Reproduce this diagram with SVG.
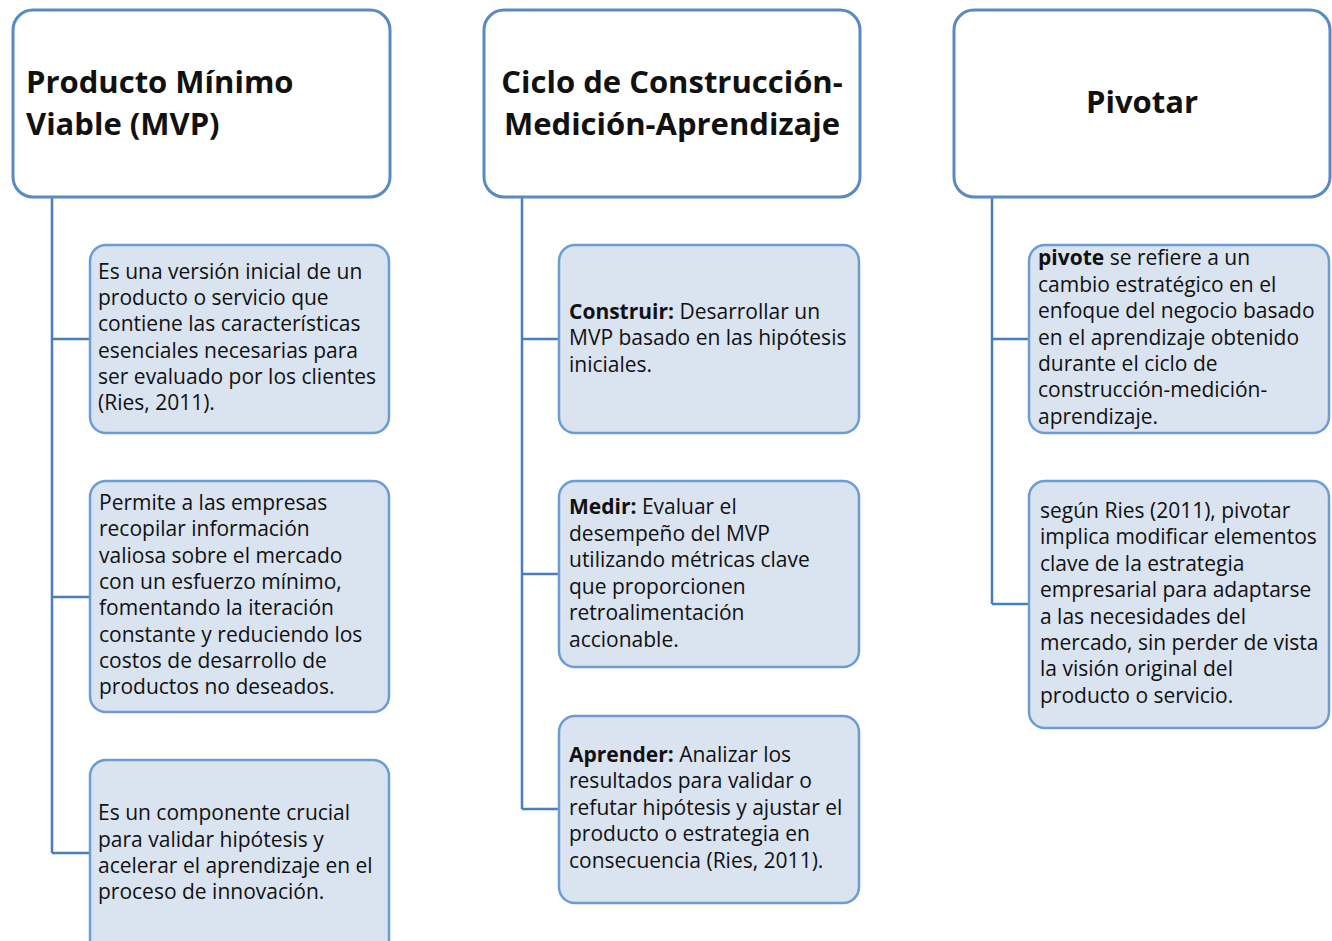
<svg xmlns="http://www.w3.org/2000/svg" width="1332" height="941" viewBox="0 0 1332 941">
<style>
.hdr{fill:#ffffff;stroke:#5A8AC2;stroke-width:3}
.box{fill:#DAE3F0;stroke:#6C9CD4;stroke-width:2.5}
.con{fill:none;stroke:#4A7EBA;stroke-width:2.5}
.t{font-family:"Open Sans","Liberation Sans",Arial,sans-serif;font-size:21px;fill:#111}
.h{font-family:"Open Sans","Liberation Sans",Arial,sans-serif;font-size:31px;font-weight:bold;fill:#111}
.b{font-weight:bold}
</style>
<rect width="1332" height="941" fill="#ffffff"/>
<g id="connectors">
<path class="con" d="M52,197 V853 M52,339 H90 M52,597 H90 M52,853 H90"/>
<path class="con" d="M522,197 V809 M522,339 H559 M522,574 H559 M522,809 H559"/>
<path class="con" d="M992,197 V604 M992,339 H1029 M992,604 H1029"/>
</g>
<g id="h1">
<rect class="hdr" x="13" y="10" width="377" height="187" rx="20"/>
<text class="h" x="26" y="93">Producto Mínimo</text>
<text class="h" x="26" y="135">Viable (MVP)</text>
</g>
<g id="h2">
<rect class="hdr" x="484" y="10" width="376" height="187" rx="20"/>
<text class="h" x="672" y="93" text-anchor="middle">Ciclo de Construcción-</text>
<text class="h" x="672" y="135" text-anchor="middle">Medición-Aprendizaje</text>
</g>
<g id="h3">
<rect class="hdr" x="954" y="10" width="376" height="187" rx="20"/>
<text class="h" x="1142" y="113" text-anchor="middle">Pivotar</text>
</g>
<g id="c1a">
<rect class="box" x="90" y="245" width="299" height="188" rx="16"/>
<text class="t" x="98" y="279">Es una versión inicial de un</text>
<text class="t" x="98" y="305">producto o servicio que</text>
<text class="t" x="98" y="331">contiene las características</text>
<text class="t" x="98" y="358">esenciales necesarias para</text>
<text class="t" x="98" y="384">ser evaluado por los clientes</text>
<text class="t" x="98" y="410">(Ries, 2011).</text>
</g>
<g id="c1b">
<rect class="box" x="90" y="481" width="299" height="231" rx="16"/>
<text class="t" x="99" y="510">Permite a las empresas</text>
<text class="t" x="99" y="536">recopilar información</text>
<text class="t" x="99" y="563">valiosa sobre el mercado</text>
<text class="t" x="99" y="589">con un esfuerzo mínimo,</text>
<text class="t" x="99" y="615">fomentando la iteración</text>
<text class="t" x="99" y="642">constante y reduciendo los</text>
<text class="t" x="99" y="668">costos de desarrollo de</text>
<text class="t" x="99" y="694">productos no deseados.</text>
</g>
<g id="c1c">
<rect class="box" x="90" y="760" width="299" height="200" rx="16"/>
<text class="t" x="98" y="820">Es un componente crucial</text>
<text class="t" x="98" y="847">para validar hipótesis y</text>
<text class="t" x="98" y="873">acelerar el aprendizaje en el</text>
<text class="t" x="98" y="899">proceso de innovación.</text>
</g>
<g id="c2a">
<rect class="box" x="559" y="245" width="300" height="188" rx="16"/>
<text class="t" x="569" y="319"><tspan class="b">Construir:</tspan> Desarrollar un</text>
<text class="t" x="569" y="345">MVP basado en las hipótesis</text>
<text class="t" x="569" y="372">iniciales.</text>
</g>
<g id="c2b">
<rect class="box" x="559" y="481" width="300" height="186" rx="16"/>
<text class="t" x="569" y="514"><tspan class="b">Medir:</tspan> Evaluar el</text>
<text class="t" x="569" y="541">desempeño del MVP</text>
<text class="t" x="569" y="567">utilizando métricas clave</text>
<text class="t" x="569" y="594">que proporcionen</text>
<text class="t" x="569" y="620">retroalimentación</text>
<text class="t" x="569" y="647">accionable.</text>
</g>
<g id="c2c">
<rect class="box" x="559" y="716" width="300" height="187" rx="16"/>
<text class="t" x="569" y="762"><tspan class="b">Aprender:</tspan> Analizar los</text>
<text class="t" x="569" y="788">resultados para validar o</text>
<text class="t" x="569" y="815">refutar hipótesis y ajustar el</text>
<text class="t" x="569" y="841">producto o estrategia en</text>
<text class="t" x="569" y="868">consecuencia (Ries, 2011).</text>
</g>
<g id="c3a">
<rect class="box" x="1029" y="245" width="300" height="188" rx="16"/>
<text class="t" x="1038" y="265"><tspan class="b">pivote</tspan> se refiere a un</text>
<text class="t" x="1038" y="292">cambio estratégico en el</text>
<text class="t" x="1038" y="318">enfoque del negocio basado</text>
<text class="t" x="1038" y="345">en el aprendizaje obtenido</text>
<text class="t" x="1038" y="371">durante el ciclo de</text>
<text class="t" x="1038" y="397">construcción-medición-</text>
<text class="t" x="1038" y="424">aprendizaje.</text>
</g>
<g id="c3b">
<rect class="box" x="1029" y="481" width="300" height="247" rx="16"/>
<text class="t" x="1040" y="518">según Ries (2011), pivotar</text>
<text class="t" x="1040" y="544">implica modificar elementos</text>
<text class="t" x="1040" y="571">clave de la estrategia</text>
<text class="t" x="1040" y="597">empresarial para adaptarse</text>
<text class="t" x="1040" y="624">a las necesidades del</text>
<text class="t" x="1040" y="650">mercado, sin perder de vista</text>
<text class="t" x="1040" y="676">la visión original del</text>
<text class="t" x="1040" y="703">producto o servicio.</text>
</g>
</svg>
